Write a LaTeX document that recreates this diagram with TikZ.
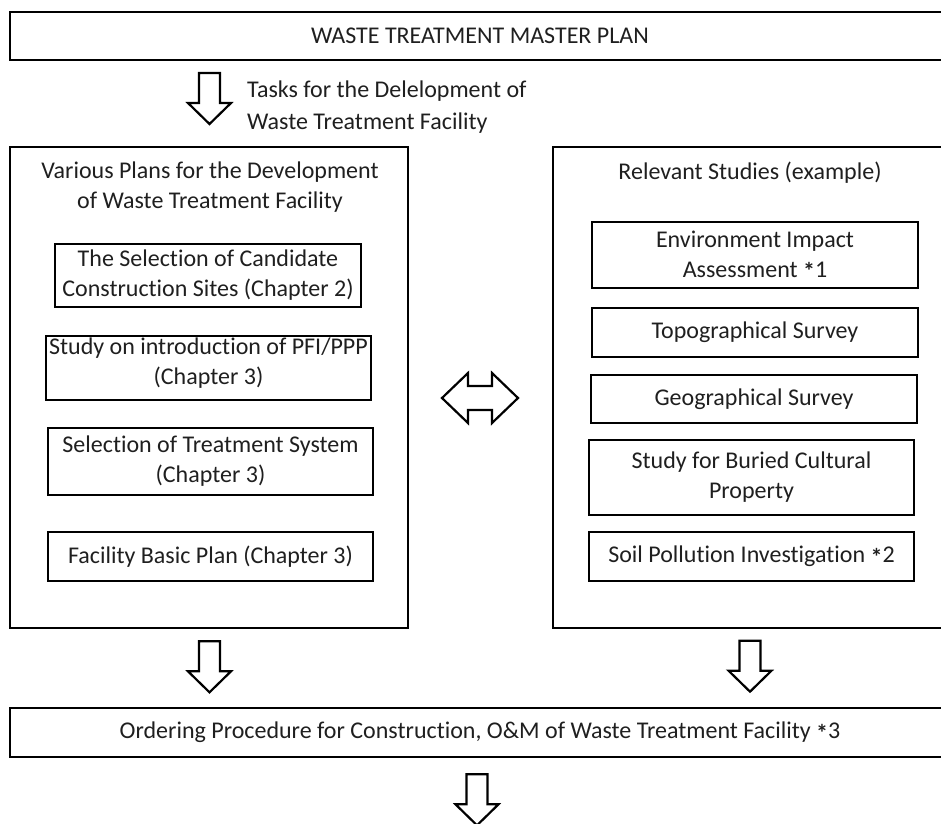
\documentclass[tikz,border=0pt]{standalone}
\usepackage{fontspec}
\setmainfont{Carlito}[Ligatures=NoCommon]
\usetikzlibrary{calc}
\newcommand{\astk}{\raisebox{-2.5pt}{\bfseries *}}
\begin{document}
\begin{tikzpicture}[x=1pt,y=-1pt,
  txt/.style={font=\fontsize{24}{30}\selectfont, text=black!88, align=center, inner sep=0pt},
  thickbox/.style={draw, line width=2.6pt, inner sep=0pt, txt},
  thinbox/.style={draw, line width=1.3pt, inner sep=0pt},
  ibox/.style={draw, line width=1.5pt, inner sep=0pt, txt},
  blk/.style={draw, line width=2.2pt, fill=white, line join=miter},
  pics/dnarrow/.style={code={\draw[blk] (-10.5,0) -- (10.5,0) -- (10.5,30) -- (21.5,30) -- (0,51) -- (-21.5,30) -- (-10.5,30) -- cycle;}}]
\useasboundingbox (0,0) rectangle (941,823);
\clip (0,0) rectangle (941,823);

% top box
\node[thickbox, minimum width=940pt, minimum height=48pt] (top) at (480,36) {WASTE TREATMENT MASTER PLAN};
\pic at (209.5,73) {dnarrow};
\node[txt, align=left, anchor=west, font=\fontsize{24}{32}\selectfont] (tasks) at (247,107) {Tasks for the Delelopment of\\Waste Treatment Facility};

% left big box
\node[draw, line width=2.6pt, minimum width=398pt, minimum height=481pt] (lbox) at (209,387.5) {};
\node[txt] (ltitle) at (210,187) {Various Plans for the Development\\of Waste Treatment Facility};
\node[ibox, minimum width=306pt, minimum height=63pt] (l1) at (208,275.5) {The Selection of Candidate\\Construction Sites (Chapter 2)};
\node[ibox, minimum width=325pt, minimum height=64pt] (l2) at (208.5,368) {};
\node[txt] (l2t) at ($(l2.center)+(0,-5)$) {Study on introduction of PFI/PPP\\(Chapter 3)};
\node[ibox, minimum width=325pt, minimum height=67pt] (l3) at (210.5,461.5) {Selection of Treatment System\\(Chapter 3)};
\node[ibox, minimum width=325pt, minimum height=49pt] (l4) at (210.5,556.5) {Facility Basic Plan (Chapter 3)};

% right big box
\node[thinbox, minimum width=397pt, minimum height=481pt] (rbox) at (751.5,387.5) {};
\node[txt] (rtitle) at (750,173) {Relevant Studies (example)};
\node[ibox, minimum width=326pt, minimum height=66pt] (r1) at (755,255) {Environment Impact\\Assessment \astk1};
\node[ibox, minimum width=326pt, minimum height=49pt] (r2) at (755,332.5) {Topographical Survey};
\node[ibox, minimum width=326pt, minimum height=48pt] (r3) at (754,399) {Geographical Survey};
\node[ibox, minimum width=325pt, minimum height=75pt] (r4) at (751.5,477.5) {Study for Buried Cultural\\Property};
\node[ibox, minimum width=325pt, minimum height=49pt] (r5) at (751.5,556.5) {Soil Pollution Investigation \astk2};

% double arrow
\draw[blk] (442,398) -- (468,373) -- (468,386) -- (492,386) -- (492,373) -- (518,398)
  -- (492,423) -- (492,410) -- (468,410) -- (468,423) -- cycle;

% down arrows
\pic at ($(lbox.south)+(0.5,12)$) {dnarrow};
\pic at ($(rbox.south)+(-1.5,12)$) {dnarrow};

% bottom box
\node[thickbox, minimum width=940pt, minimum height=49pt] (bottom) at (480,732.5) {Ordering Procedure for Construction, O\&M of Waste Treatment Facility \astk3};
\pic at ($(bottom.south)+(-3,16)$) {dnarrow};
\end{tikzpicture}
\end{document}
